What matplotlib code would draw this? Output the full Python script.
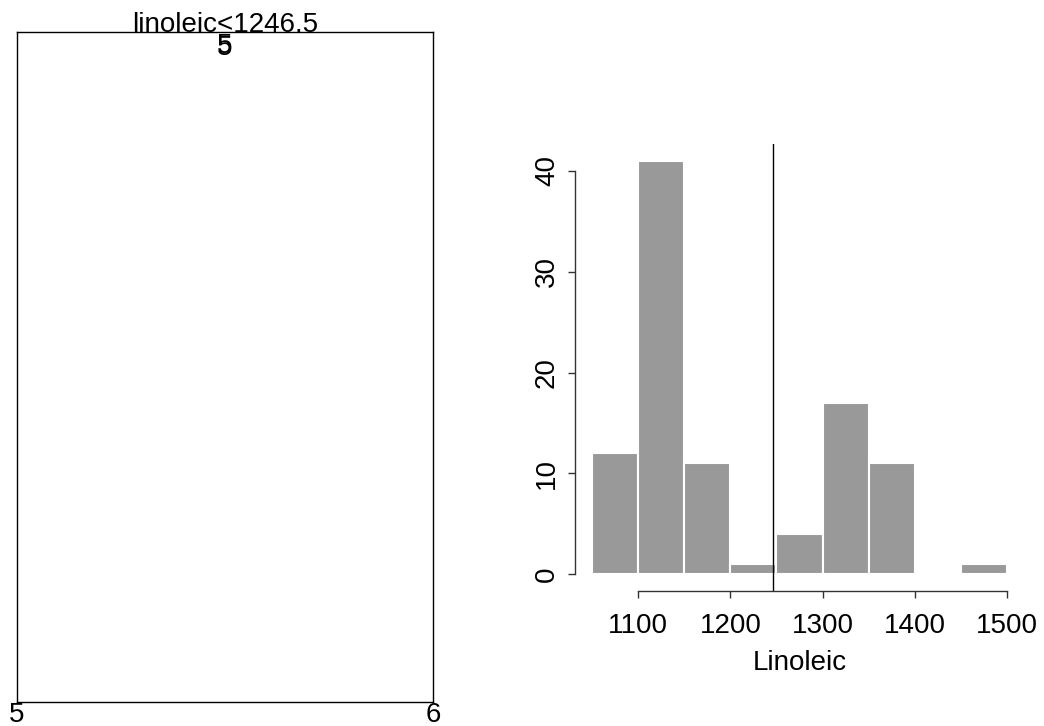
import numpy as np
import matplotlib.pyplot as plt

plt.rcParams['font.family'] = ['Liberation Sans', 'DejaVu Sans']

# histogram of linoleic, bin edges and counts
bin_edges = [1050, 1100, 1150, 1200, 1250, 1300, 1350, 1400, 1450, 1500]
counts = [12, 41, 11, 1, 4, 17, 11, 0, 1]
split_value = 1246.5
x_ticks = [1100, 1200, 1300, 1400, 1500]
y_ticks = [0, 10, 20, 30, 40]

# tree panel labels
node_label = "linoleic<1246.5"
leaf_labels = ["5", "5"]
tree_ticks = [5, 6]

FS = 20

fig = plt.figure(figsize=(10.44, 7.26), dpi=100)

# left: tree panel
ax1 = fig.add_axes([0.0163, 0.0331, 0.3985, 0.9229])
ax1.set_xlim(5, 6)
ax1.set_ylim(0, 1)
ax1.set_xticks(tree_ticks)
ax1.set_xticklabels([str(t) for t in tree_ticks], fontsize=FS)
ax1.tick_params(axis='x', length=0, pad=0)
ax1.set_yticks([])
for s in ax1.spines.values():
    s.set_linewidth(1.0)
ax1.text(0.5, 1.0, node_label, transform=ax1.transAxes, ha='center',
         va='baseline', fontsize=FS)
ax1.text(0.5, 0.999, leaf_labels[0], transform=ax1.transAxes, ha='center',
         va='top', fontsize=FS)
ax1.text(0.5, 0.995, leaf_labels[1], transform=ax1.transAxes, ha='center',
         va='top', fontsize=FS)

# right: histogram
ax2 = fig.add_axes([0.5511, 0.1866, 0.4294, 0.6145])
edges = np.array(bin_edges)
ax2.bar(edges[:-1], counts, width=np.diff(edges), align='edge',
        color='#999999', edgecolor='white', linewidth=1.5)
ax2.axvline(split_value, color='black', linewidth=1.0)
lo, hi = bin_edges[0], bin_edges[-1]
pad_x = 0.04 * (hi - lo)
ax2.set_xlim(lo - pad_x, hi + pad_x)
ymax = max(counts)
ax2.set_ylim(-0.04 * ymax, ymax * 1.04)

ax2.spines['top'].set_visible(False)
ax2.spines['right'].set_visible(False)
ax2.spines['left'].set_bounds(y_ticks[0], y_ticks[-1])
ax2.spines['bottom'].set_bounds(x_ticks[0], x_ticks[-1])
for s in ['left', 'bottom']:
    ax2.spines[s].set_color('#333333')
    ax2.spines[s].set_linewidth(1.0)
ax2.set_xticks(x_ticks)
ax2.set_yticks(y_ticks)
ax2.set_yticklabels([str(t) for t in y_ticks], rotation=90, va='center')
ax2.tick_params(labelsize=FS, length=5, width=1.0, color='#333333')
ax2.tick_params(axis='x', pad=11)
ax2.tick_params(axis='y', pad=6)
ax2.set_xlabel("Linoleic", fontsize=FS, labelpad=8)

fig.savefig("out.png", dpi=100)
